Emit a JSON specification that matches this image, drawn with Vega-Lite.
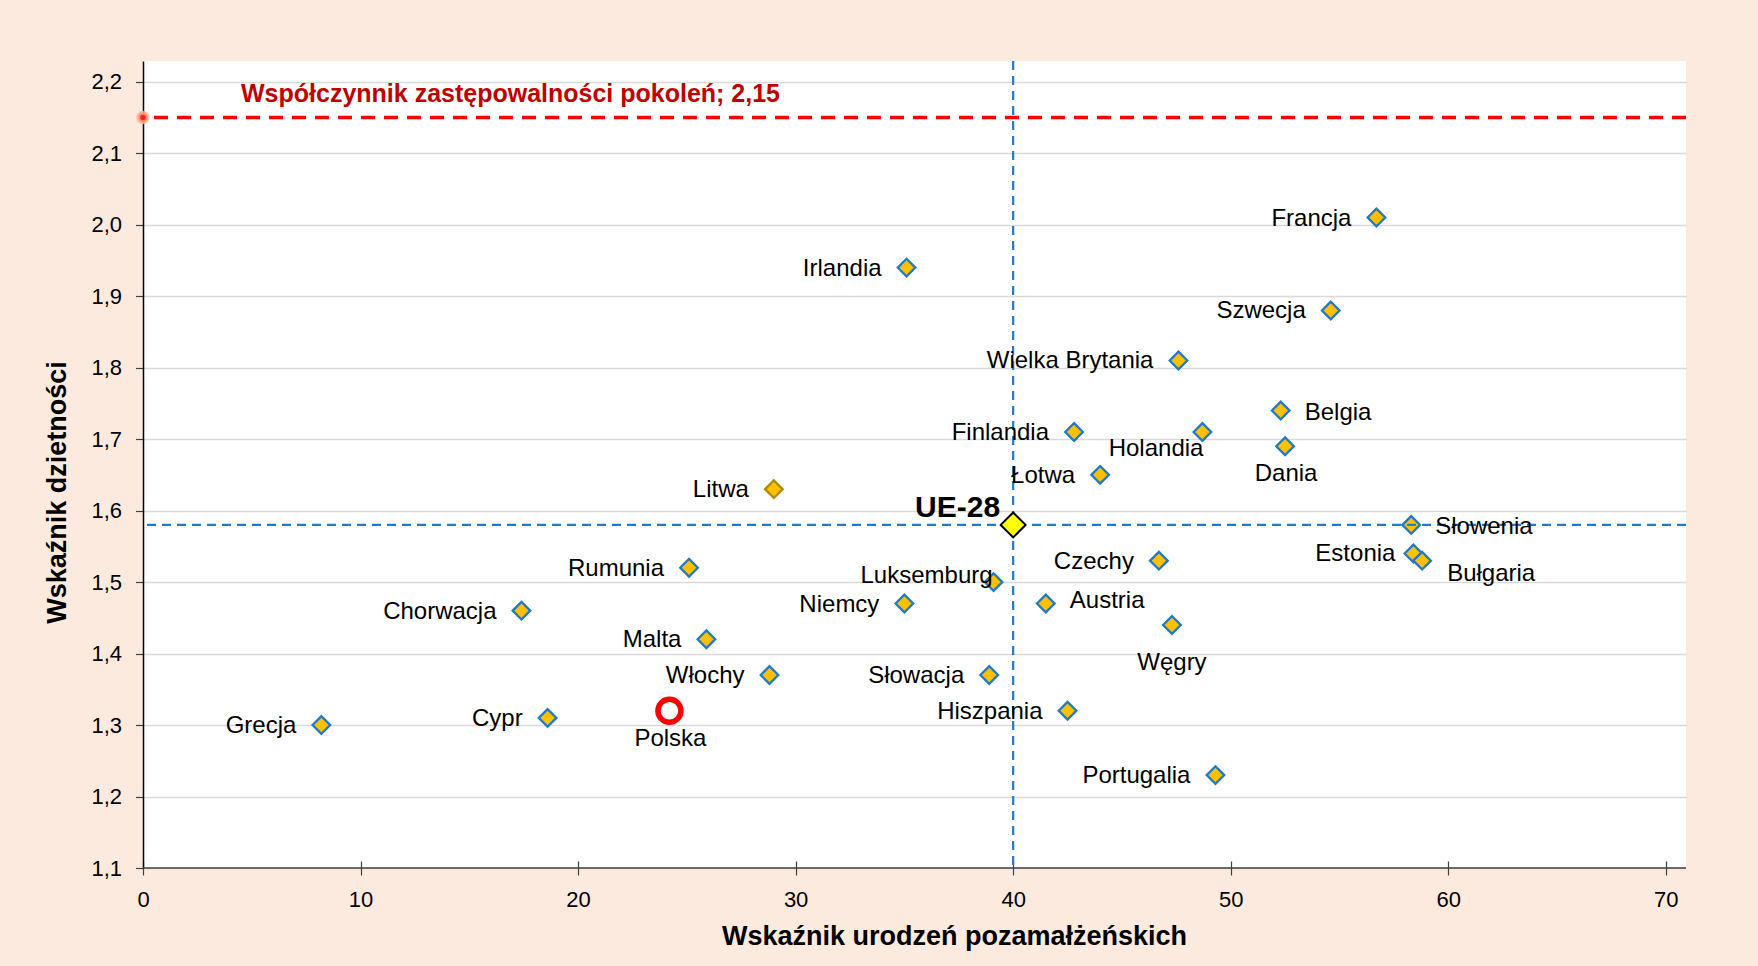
{
  "$schema": "https://vega.github.io/schema/vega-lite/v6.json",
  "width": 1543,
  "height": 807,
  "autosize": {"type": "none"},
  "padding": {"left": 143, "top": 61, "right": 72, "bottom": 98},
  "background": "#FDEADE",
  "config": {
    "font": "Liberation Sans",
    "view": {"fill": "#FFFFFF", "stroke": null}
  },
  "datasets": {
    "kraje": [
      {"kraj": "Francja", "x": 56.7, "y": 2.01},
      {"kraj": "Irlandia", "x": 35.1, "y": 1.94},
      {"kraj": "Szwecja", "x": 54.6, "y": 1.88},
      {"kraj": "Wielka Brytania", "x": 47.6, "y": 1.81},
      {"kraj": "Belgia", "x": 52.3, "y": 1.74},
      {"kraj": "Finlandia", "x": 42.8, "y": 1.71},
      {"kraj": "Holandia", "x": 48.7, "y": 1.71},
      {"kraj": "Dania", "x": 52.5, "y": 1.69},
      {"kraj": "Łotwa", "x": 44.0, "y": 1.65},
      {"kraj": "Litwa", "x": 29.0, "y": 1.63},
      {"kraj": "UE-28", "x": 40.0, "y": 1.58},
      {"kraj": "Słowenia", "x": 58.3, "y": 1.58},
      {"kraj": "Estonia", "x": 58.4, "y": 1.54},
      {"kraj": "Bułgaria", "x": 58.8, "y": 1.53},
      {"kraj": "Czechy", "x": 46.7, "y": 1.53},
      {"kraj": "Rumunia", "x": 25.1, "y": 1.52},
      {"kraj": "Luksemburg", "x": 39.1, "y": 1.50},
      {"kraj": "Austria", "x": 41.5, "y": 1.47},
      {"kraj": "Niemcy", "x": 35.0, "y": 1.47},
      {"kraj": "Chorwacja", "x": 17.4, "y": 1.46},
      {"kraj": "Węgry", "x": 47.3, "y": 1.44},
      {"kraj": "Malta", "x": 25.9, "y": 1.42},
      {"kraj": "Włochy", "x": 28.8, "y": 1.37},
      {"kraj": "Słowacja", "x": 38.9, "y": 1.37},
      {"kraj": "Hiszpania", "x": 42.5, "y": 1.32},
      {"kraj": "Polska", "x": 24.2, "y": 1.32},
      {"kraj": "Cypr", "x": 18.6, "y": 1.31},
      {"kraj": "Grecja", "x": 8.2, "y": 1.30},
      {"kraj": "Portugalia", "x": 49.3, "y": 1.23}
    ],
    "ref": [
      {"etykieta": "Współczynnik zastępowalności pokoleń; 2,15", "x": 0, "y": 2.15}
    ]
  },
  "layer": [
    {
      "data": {"name": "kraje"},
      "mark": {"type": "point", "shape": "diamond", "filled": true, "size": 310, "fill": "#FFC000", "stroke": "#2079C8", "strokeWidth": 2.3, "opacity": 1},
      "transform": [{"filter": {"not": {"field": "kraj", "oneOf": ["UE-28", "Polska", "Litwa"]}}}],
      "encoding": {
        "x": {"field": "x", "type": "quantitative", "scale": {"domain": [0, 70.93], "nice": false, "zero": false},
          "axis": {"values": [0, 10, 20, 30, 40, 50, 60, 70], "format": "d", "title": "Wskaźnik urodzeń pozamałżeńskich",
            "grid": false, "domain": false, "offset": -7, "tickSize": 14, "tickColor": "#404040", "tickWidth": 1.2,
            "labelFontSize": 22, "labelColor": "#000000", "labelBaseline": "alphabetic", "labelPadding": 31, "labelFlush": false, "labelOverlap": false,
            "titleFontSize": 27, "titleFontWeight": "bold", "titleColor": "#000000", "titleX": 811, "titleY": 83, "titleBaseline": "alphabetic", "titleAlign": "center"}},
        "y": {"field": "y", "type": "quantitative", "scale": {"domain": [1.1, 2.229], "nice": false, "zero": false},
          "axis": {"values": [1.1, 1.2, 1.3, 1.4, 1.5, 1.6, 1.7, 1.8, 1.9, 2.0, 2.1, 2.2],
            "labelExpr": "replace(format(datum.value, '.1f'), '.', ',')", "title": "Wskaźnik dzietności",
            "grid": true, "gridColor": "#D9D9D9", "gridWidth": 1.5, "domainColor": "#000000", "domainWidth": 1.5,
            "tickColor": "#404040", "tickSize": 7.5, "tickWidth": 1.2, "labelFontSize": 22, "labelColor": "#000000", "labelPadding": 14, "labelFlush": false, "labelOverlap": false,
            "titleFontSize": 27, "titleFontWeight": "bold", "titleColor": "#000000", "titleX": -86, "titleY": 431, "titleAngle": 270, "titleAlign": "center", "titleBaseline": "middle"}}
      }
    },
    {
      "data": {"name": "kraje"},
      "transform": [{"filter": {"field": "kraj", "equal": "UE-28"}}],
      "mark": {"type": "rule", "color": "#1F7BCC", "strokeWidth": 2.2, "strokeDash": [9, 6]},
      "encoding": {
        "y": {"field": "y", "type": "quantitative"}
      }
    },
    {
      "data": {"name": "kraje"},
      "transform": [{"filter": {"field": "kraj", "equal": "UE-28"}}],
      "mark": {"type": "rule", "color": "#1F7BCC", "strokeWidth": 2.2, "strokeDash": [9, 6]},
      "encoding": {
        "x": {"field": "x", "type": "quantitative"}
      }
    },
    {
      "data": {"name": "ref"},
      "mark": {"type": "rule", "color": "#FF0000", "strokeWidth": 3.5, "strokeDash": [14, 9]},
      "encoding": {
        "y": {"field": "y", "type": "quantitative"}
      }
    },
    {
      "data": {"name": "ref"},
      "mark": {"type": "rule", "color": "#404040", "strokeWidth": 1.5},
      "encoding": {
        "y": {"datum": 1.1, "type": "quantitative"}
      }
    },
    {
      "data": {"name": "kraje"},
      "transform": [{"filter": {"field": "kraj", "equal": "Litwa"}}],
      "mark": {"type": "point", "shape": "diamond", "filled": true, "size": 310, "fill": "#FFC000", "stroke": "#B08A00", "strokeWidth": 2.3, "opacity": 1},
      "encoding": {
        "x": {"field": "x", "type": "quantitative"},
        "y": {"field": "y", "type": "quantitative"}
      }
    },
    {
      "data": {"name": "kraje"},
      "transform": [{"filter": {"field": "kraj", "equal": "Polska"}}],
      "mark": {"type": "point", "shape": "circle", "filled": true, "size": 530, "fill": "#FFFFFF", "stroke": "#FF0000", "strokeWidth": 5.5, "opacity": 1},
      "encoding": {
        "x": {"field": "x", "type": "quantitative"},
        "y": {"field": "y", "type": "quantitative"}
      }
    },
    {
      "data": {"name": "kraje"},
      "transform": [{"filter": {"field": "kraj", "equal": "UE-28"}}],
      "mark": {"type": "point", "shape": "diamond", "filled": true, "size": 620, "fill": "#FFFF00", "stroke": "#000000", "strokeWidth": 2, "opacity": 1},
      "encoding": {
        "x": {"field": "x", "type": "quantitative"},
        "y": {"field": "y", "type": "quantitative"}
      }
    },
    {
      "data": {"name": "ref"},
      "mark": {"type": "point", "shape": "circle", "filled": true, "size": 90, "fill": "#FF2020", "stroke": "#FFB090", "strokeWidth": 4, "strokeOpacity": 0.8, "opacity": 1},
      "encoding": {
        "x": {"field": "x", "type": "quantitative"},
        "y": {"field": "y", "type": "quantitative"}
      }
    },
    {
      "data": {"name": "ref"},
      "mark": {"type": "text", "align": "left", "baseline": "middle", "dx": 98, "dy": -23.5, "fontSize": 25, "fontWeight": "bold", "color": "#C00000"},
      "encoding": {
        "x": {"field": "x", "type": "quantitative"},
        "y": {"field": "y", "type": "quantitative"},
        "text": {"field": "etykieta"}
      }
    },
    {
      "data": {"name": "kraje"},
      "transform": [{"filter": {"field": "kraj", "oneOf": ["Francja", "Irlandia", "Szwecja", "Wielka Brytania", "Finlandia", "Łotwa", "Litwa", "Czechy", "Rumunia", "Niemcy", "Chorwacja", "Malta", "Włochy", "Słowacja", "Hiszpania", "Cypr", "Grecja", "Portugalia"]}}],
      "mark": {"type": "text", "align": "right", "baseline": "middle", "dx": -25, "dy": 1, "fontSize": 24, "color": "#000000"},
      "encoding": {
        "x": {"field": "x", "type": "quantitative"},
        "y": {"field": "y", "type": "quantitative"},
        "text": {"field": "kraj"}
      }
    },
    {
      "data": {"name": "kraje"},
      "transform": [{"filter": {"field": "kraj", "oneOf": ["Belgia", "Słowenia"]}}],
      "mark": {"type": "text", "align": "left", "baseline": "middle", "dx": 24, "dy": 2, "fontSize": 24, "color": "#000000"},
      "encoding": {
        "x": {"field": "x", "type": "quantitative"},
        "y": {"field": "y", "type": "quantitative"},
        "text": {"field": "kraj"}
      }
    },
    {
      "data": {"name": "kraje"},
      "transform": [{"filter": {"field": "kraj", "equal": "Austria"}}],
      "mark": {"type": "text", "align": "left", "baseline": "middle", "dx": 24, "dy": -3, "fontSize": 24, "color": "#000000"},
      "encoding": {
        "x": {"field": "x", "type": "quantitative"},
        "y": {"field": "y", "type": "quantitative"},
        "text": {"field": "kraj"}
      }
    },
    {
      "data": {"name": "kraje"},
      "transform": [{"filter": {"field": "kraj", "equal": "Bułgaria"}}],
      "mark": {"type": "text", "align": "left", "baseline": "middle", "dx": 25, "dy": 13, "fontSize": 24, "color": "#000000"},
      "encoding": {
        "x": {"field": "x", "type": "quantitative"},
        "y": {"field": "y", "type": "quantitative"},
        "text": {"field": "kraj"}
      }
    },
    {
      "data": {"name": "kraje"},
      "transform": [{"filter": {"field": "kraj", "oneOf": ["Dania", "Polska"]}}],
      "mark": {"type": "text", "align": "center", "baseline": "middle", "dx": 1, "dy": 28, "fontSize": 24, "color": "#000000"},
      "encoding": {
        "x": {"field": "x", "type": "quantitative"},
        "y": {"field": "y", "type": "quantitative"},
        "text": {"field": "kraj"}
      }
    },
    {
      "data": {"name": "kraje"},
      "transform": [{"filter": {"field": "kraj", "equal": "Węgry"}}],
      "mark": {"type": "text", "align": "center", "baseline": "middle", "dx": 0, "dy": 38, "fontSize": 24, "color": "#000000"},
      "encoding": {
        "x": {"field": "x", "type": "quantitative"},
        "y": {"field": "y", "type": "quantitative"},
        "text": {"field": "kraj"}
      }
    },
    {
      "data": {"name": "kraje"},
      "transform": [{"filter": {"field": "kraj", "equal": "Holandia"}}],
      "mark": {"type": "text", "align": "right", "baseline": "middle", "dx": 1, "dy": 17, "fontSize": 24, "color": "#000000"},
      "encoding": {
        "x": {"field": "x", "type": "quantitative"},
        "y": {"field": "y", "type": "quantitative"},
        "text": {"field": "kraj"}
      }
    },
    {
      "data": {"name": "kraje"},
      "transform": [{"filter": {"field": "kraj", "equal": "Luksemburg"}}],
      "mark": {"type": "text", "align": "right", "baseline": "middle", "dx": -1, "dy": -6, "fontSize": 24, "color": "#000000"},
      "encoding": {
        "x": {"field": "x", "type": "quantitative"},
        "y": {"field": "y", "type": "quantitative"},
        "text": {"field": "kraj"}
      }
    },
    {
      "data": {"name": "kraje"},
      "transform": [{"filter": {"field": "kraj", "equal": "Estonia"}}],
      "mark": {"type": "text", "align": "right", "baseline": "middle", "dx": -18, "dy": 1, "fontSize": 24, "color": "#000000"},
      "encoding": {
        "x": {"field": "x", "type": "quantitative"},
        "y": {"field": "y", "type": "quantitative"},
        "text": {"field": "kraj"}
      }
    },
    {
      "data": {"name": "kraje"},
      "transform": [{"filter": {"field": "kraj", "equal": "UE-28"}}],
      "mark": {"type": "text", "align": "right", "baseline": "middle", "dx": -13, "dy": -16.5, "fontSize": 30, "fontWeight": "bold", "color": "#000000"},
      "encoding": {
        "x": {"field": "x", "type": "quantitative"},
        "y": {"field": "y", "type": "quantitative"},
        "text": {"field": "kraj"}
      }
    }
  ]
}
